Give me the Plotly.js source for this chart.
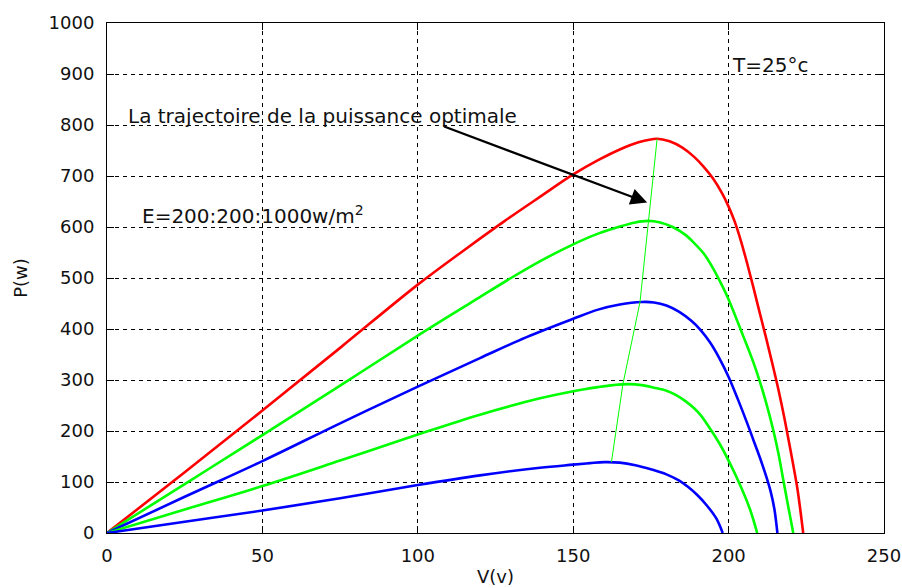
<!DOCTYPE html>
<html>
<head>
<meta charset="utf-8">
<script src="https://cdn.plot.ly/plotly-3.0.1.min.js"></script>
<style>html,body{margin:0;padding:0;background:#fff;}#chart{width:902px;height:588px;}</style>
</head>
<body>
<div id="chart"></div>
<script>
// E = 1000 W/m2 (red)
const v1000 = [0, 25, 50, 75, 100, 115, 128, 140, 150, 158, 165, 171, 177, 181, 185, 189, 192, 195, 198, 200, 202, 204, 206, 208, 210, 212, 214, 216, 218, 220, 222, 223, 224];
const p1000 = [0, 119, 240, 363, 487, 555, 612, 662, 703, 731, 752, 766, 773, 768, 756, 737, 718, 695, 665, 640, 610, 572, 528, 481, 432, 384, 334, 282, 224, 160, 92, 49, 0];
// E = 800 W/m2 (green)
const v800 = [0, 25, 50, 75, 100, 118, 130, 140, 150, 158, 165, 170, 174, 178, 182, 186, 189, 192, 195, 198, 200, 202, 204, 206, 208, 210, 212, 214.4, 216, 217.6, 219, 220.8];
const p800 = [0, 96, 192, 289, 387, 455, 500, 535, 566, 587, 601, 609, 612, 609, 600, 585, 568, 548, 519, 484, 458, 428, 397, 366, 334, 298, 257, 201, 157, 104, 58, 0];
// E = 600 W/m2 (blue)
const v600 = [0, 25, 50, 75, 100, 120, 135, 150, 158, 165, 172, 176, 180, 184, 188, 191, 194, 197, 200, 203, 206, 208, 210, 212, 213.5, 214.7, 215.7];
const p600 = [0, 71, 141, 215, 287, 343, 384, 420, 438, 448, 453, 452, 446, 434, 416, 398, 374, 343, 306, 262, 215, 182, 149, 113, 82, 48, 0];
// E = 400 W/m2 (green)
const v400 = [0, 25, 50, 75, 100, 120, 139.3, 150, 158, 163, 168, 172, 176, 180, 183, 186, 189, 191, 194, 197.2, 200.4, 203.7, 206.9, 209.2];
const p400 = [0, 46, 92, 142, 193, 232, 264, 278, 286, 290, 292, 290, 285, 279, 271, 259, 244, 231, 205, 174, 137, 94, 46, 0];
// E = 200 W/m2 (blue)
const v200 = [0, 25, 50, 75, 100, 120, 139.3, 150, 155.4, 160, 165, 170, 175, 180, 184, 187, 190, 193, 196, 198.1];
const p200 = [0, 22, 44, 68, 94, 113, 128, 134, 137, 139, 138, 133, 125, 115, 103, 90, 74, 54, 29, 0];
// Optimal power trajectory
const trajV = [162.3, 166, 171.5, 174.2, 177];
const trajP = [139, 292, 453, 612, 773];

const xTicks = [0, 50, 100, 150, 200, 250];
const yTicks = [0, 100, 200, 300, 400, 500, 600, 700, 800, 900, 1000];

const labelText = "La trajectoire de la puissance optimale";
const irrText = "E=200:200:1000w/m<sup>2</sup>";
const tempText = "T=25°c";

const curveStyle = (c) => ({color: c, width: 2.6, shape: 'spline', smoothing: 1});
const traces = [
  {x: v1000, y: p1000, type: 'scatter', mode: 'lines', line: curveStyle('#ff0000')},
  {x: v800, y: p800, type: 'scatter', mode: 'lines', line: curveStyle('#00ff00')},
  {x: v600, y: p600, type: 'scatter', mode: 'lines', line: curveStyle('#0000ff')},
  {x: v400, y: p400, type: 'scatter', mode: 'lines', line: curveStyle('#00ff00')},
  {x: v200, y: p200, type: 'scatter', mode: 'lines', line: curveStyle('#0000ff')},
  {x: trajV, y: trajP, type: 'scatter', mode: 'lines', line: {color: '#00ff00', width: 1}}
];

const fontFam = 'DejaVu Sans, Verdana, sans-serif';
const axisCommon = {
  showline: true, linecolor: '#000', linewidth: 1, mirror: 'ticks',
  ticks: 'inside', ticklen: 7, tickcolor: '#000', tickwidth: 1,
  showgrid: true, gridcolor: '#000', gridwidth: 1, griddash: '4px,4px',
  zeroline: false, tickfont: {family: fontFam, size: 18, color: '#111'}
};

const layout = {
  width: 902, height: 588,
  margin: {l: 107, r: 18, t: 23, b: 55},
  paper_bgcolor: '#fff', plot_bgcolor: '#fff',
  showlegend: false,
  font: {family: fontFam, color: '#111'},
  xaxis: Object.assign({}, axisCommon, {
    range: [0, 250], tickvals: xTicks, ticktext: xTicks.map(String),
    ticklabelstandoff: 6,
    title: {text: 'V(v)', font: {family: fontFam, size: 18, color: '#111'}, standoff: 5}
  }),
  yaxis: Object.assign({}, axisCommon, {
    range: [0, 1000], tickvals: yTicks, ticktext: yTicks.map(String),
    ticklabelstandoff: 8,
    title: {text: 'P(w)', font: {family: fontFam, size: 18, color: '#111'}, standoff: 16}
  }),
  annotations: [
    {x: 6.2, y: 818, xref: 'x', yref: 'y', xanchor: 'left', yanchor: 'middle', text: labelText, showarrow: false, font: {family: fontFam, size: 20, color: '#111'}},
    {x: 10.5, y: 624, xref: 'x', yref: 'y', xanchor: 'left', yanchor: 'middle', text: irrText, showarrow: false, font: {family: fontFam, size: 20, color: '#111'}},
    {x: 200.5, y: 918, xref: 'x', yref: 'y', xanchor: 'left', yanchor: 'middle', text: tempText, showarrow: false, font: {family: fontFam, size: 20, color: '#111'}},
    {x: 173.8, y: 648, ax: 108, ay: 798, xref: 'x', yref: 'y', axref: 'x', ayref: 'y', text: '', showarrow: true, arrowhead: 2, arrowsize: 1.5, arrowwidth: 2.2, arrowcolor: '#000', standoff: 0}
  ]
};

Plotly.newPlot('chart', traces, layout, {staticPlot: true, displayModeBar: false});
</script>
</body>
</html>
